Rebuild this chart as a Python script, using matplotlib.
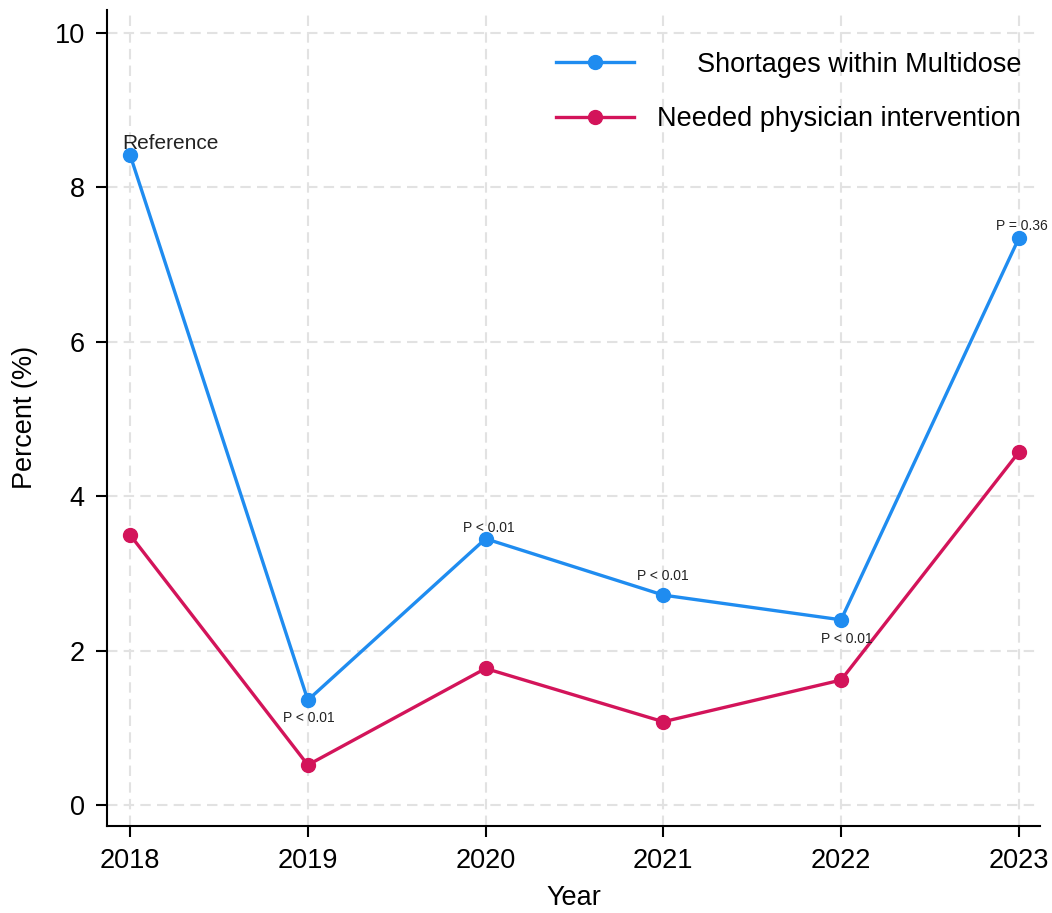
import matplotlib
matplotlib.use("Agg")
import matplotlib.pyplot as plt

plt.rcParams["font.family"] = ["Liberation Sans", "DejaVu Sans"]

years = [2018, 2019, 2020, 2021, 2022, 2023]
shortages = [8.42, 1.36, 3.45, 2.72, 2.40, 7.34]
physician = [3.50, 0.52, 1.77, 1.08, 1.62, 4.57]
p_labels = ["Reference", "P < 0.01", "P < 0.01", "P < 0.01", "P < 0.01", "P = 0.36"]
# label offsets (points) relative to each blue marker
p_offsets = [(-6, 8), (1, -13), (2, 8), (0, 14), (4, -14), (2, 9)]
p_align = ["left", "center", "center", "center", "center", "center"]
p_sizes = [15, 10, 10, 10, 10, 10]

blue = "#1f8cf0"
red = "#d3145a"

fig = plt.figure(figsize=(10.52, 9.13), dpi=100)
ax = fig.add_axes([0.1017, 0.0953, 0.887, 0.894])

ax.plot(years, shortages, color=blue, lw=2.4, marker="o", ms=10,
        label="Shortages within Multidose", zorder=3)
ax.plot(years, physician, color=red, lw=2.4, marker="o", ms=10,
        label="Needed physician intervention", zorder=3)

for x, y, txt, off, ha, fs in zip(years, shortages, p_labels, p_offsets, p_align, p_sizes):
    ax.annotate(txt, (x, y), xytext=off, textcoords="offset points",
                ha=ha, va="center", fontsize=fs, color="#222222")

ax.set_xlim(2017.87, 2023.12)
ax.set_ylim(-0.27, 10.3)
ax.set_xticks(years)
ax.set_yticks([0, 2, 4, 6, 8, 10])

ax.grid(True, color="#e2e2e2", ls=(0, (5, 3)), lw=1.5, zorder=0)
for s in ["top", "right"]:
    ax.spines[s].set_visible(False)
for s in ["left", "bottom"]:
    ax.spines[s].set_linewidth(1.5)
ax.tick_params(axis="both", length=8, width=1.5, labelsize=19.5, pad=8)

ax.set_xlabel("Year", fontsize=19.5, labelpad=8)
ax.set_ylabel("Percent (%)", fontsize=19.5, labelpad=12)

leg = ax.legend(loc="upper right", frameon=False, fontsize=19.5, handlelength=2.9,
                handletextpad=0.85, labelspacing=1.05, borderaxespad=0.3,
                bbox_to_anchor=(1.0, 0.972))

# right-align the legend labels
fig.canvas.draw()
r = fig.canvas.get_renderer()
widths = [t.get_window_extent(r).width for t in leg.get_texts()]
for t, w in zip(leg.get_texts(), widths):
    t.set_position((max(widths) - w, 0))

fig.savefig("out.png", dpi=100)
